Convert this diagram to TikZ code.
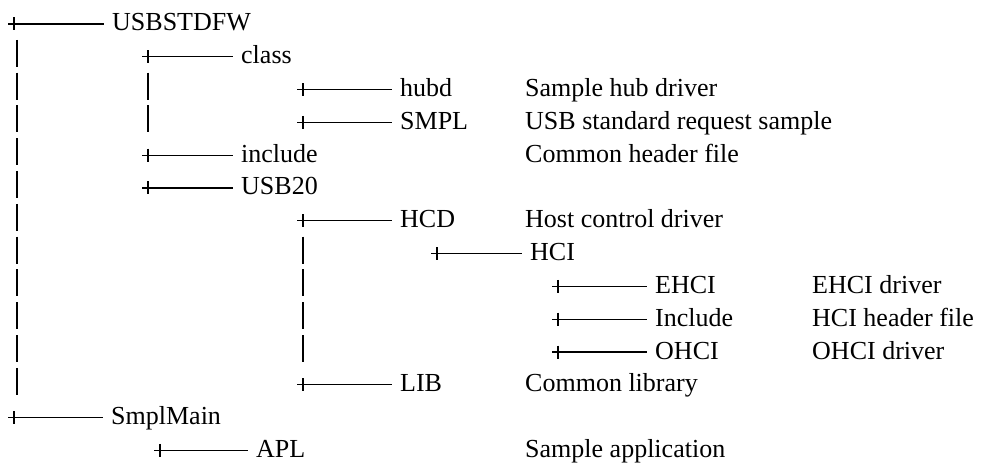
\documentclass[tikz,border=0pt]{standalone}
\usepackage{fontspec}
\setmainfont{Liberation Serif}
\begin{document}
\begin{tikzpicture}[x=1pt,y=-1pt,
  lbl/.style={anchor=base west,inner xsep=8pt,inner ysep=0pt,font=\fontsize{26}{30}\selectfont},
  desc/.style={anchor=base west,inner sep=0pt,font=\fontsize{26}{30}\selectfont},
  conn/.style={line width=1.1pt},
  bar/.style={line width=1.1pt}]
\useasboundingbox (0,0) rectangle (982,465);
% tree entries: name / plus x / line end x / row / text
\foreach \nm/\px/\le/\r/\txt in {
  n0/14/104/0/USBSTDFW,
  n1/148/233/1/class,
  n2/303/392/2/hubd,
  n3/303/392/3/SMPL,
  n4/148/233/4/include,
  n5/148/233/5/USB20,
  n6/303/392/6/HCD,
  n7/437/522/7/HCI,
  n8/558/647/8/EHCI,
  n9/558/647/9/Include,
  n10/558/647/10/OHCI,
  n11/303/392/11/LIB,
  n12/14/103/12/SmplMain,
  n13/160/248/13/APL}
{
  \pgfmathsetmacro\yy{24+32.8*\r}
  \coordinate (p-\nm) at (\px,\yy);
  \node[lbl] (\nm) at (\le,\yy+7) {\txt};
  \draw[conn] ([xshift=-6pt]p-\nm) -- (p-\nm -| \nm.west);
  \draw[conn] ([yshift=6.5pt]p-\nm) -- ([yshift=-6.5pt]p-\nm);
}
% descriptions: name / x / row / text
\foreach \nm/\dx/\r/\txt in {
  d2/525/2/Sample hub driver,
  d3/525/3/USB standard request sample,
  d4/525/4/Common header file,
  d6/525/6/Host control driver,
  d8/812/8/EHCI driver,
  d9/812/9/HCI header file,
  d10/812/10/OHCI driver,
  d11/525/11/Common library,
  d13/525/13/Sample application}
{
  \pgfmathsetmacro\yy{24+32.8*\r}
  \node[desc] (\nm) at (\dx,\yy+7) {\txt};
}
% vertical bars: x / row
\foreach \bx/\r in {17/1,17/2,17/3,17/4,17/5,17/6,17/7,17/8,17/9,17/10,17/11,
                    148/2,148/3,
                    303/7,303/8,303/9,303/10}
{
  \pgfmathsetmacro\yy{24+32.8*\r}
  \draw[bar] (\bx,\yy-17) -- (\bx,\yy+10);
}
\end{tikzpicture}
\end{document}
